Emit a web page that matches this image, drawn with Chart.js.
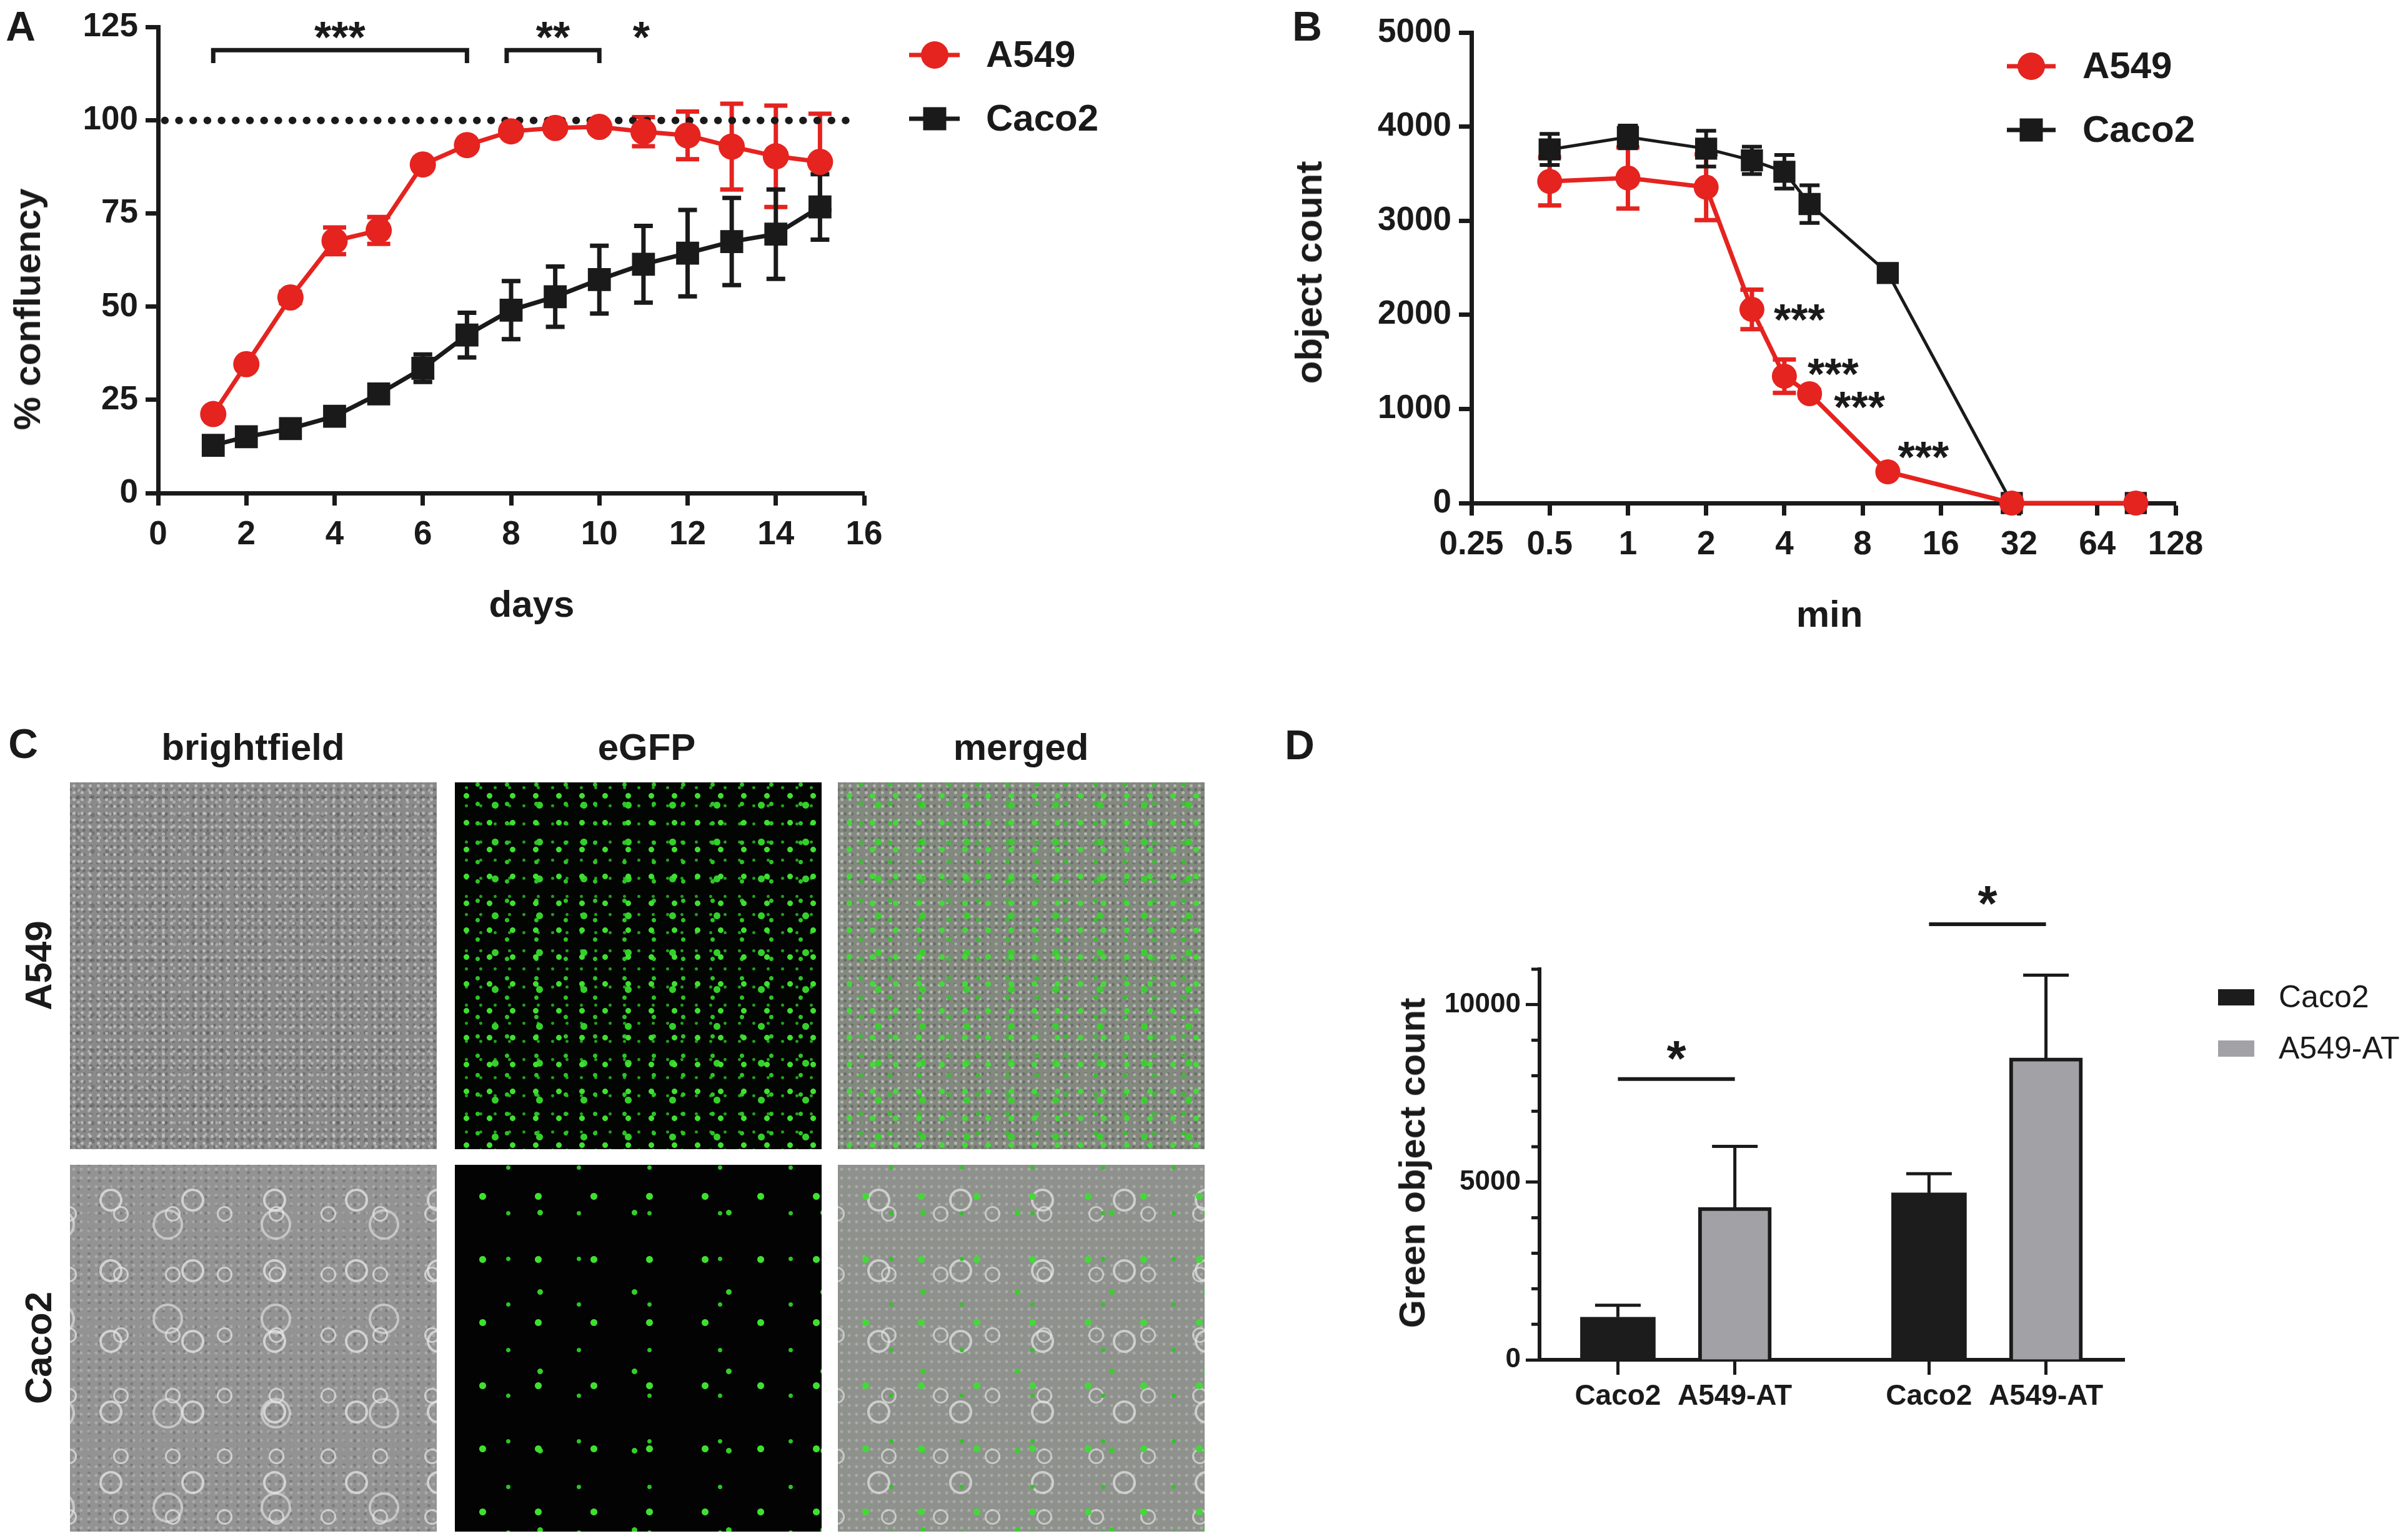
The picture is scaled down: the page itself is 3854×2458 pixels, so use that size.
<!DOCTYPE html>
<html lang="en">
<head>
<meta charset="utf-8">
<title>A549 / Caco2</title>
<script src="https://cdn.jsdelivr.net/npm/chart.js@4.4.1/dist/chart.umd.min.js"></script>
<style>
  html, body { margin: 0; padding: 0; background: #fff; }
  #fig { position: relative; width: 3854px; height: 2458px; overflow: hidden;
         font-family: 'Liberation Sans', Arial, sans-serif; color: #1a1a1a; }
  #fig canvas { position: absolute; }
  .lbl { position: absolute; transform: translate(-50%, -50%); white-space: nowrap;
         font-weight: bold; line-height: 1; }
  .rot { transform: translate(-50%, -50%) rotate(-90deg); }
  .panel { font-size: 66px; }
  .title { font-size: 60px; }
  .img { position: absolute; width: 587px; height: 587px; }

  /* micrograph stand-ins (panel C) */
  .bf1 { background:
      radial-gradient(circle, rgba(225,225,225,.55) 0 2px, transparent 3px) 0 0/13px 11px,
      radial-gradient(circle, rgba(215,215,215,.45) 0 2px, transparent 3px) 5px 3px/17px 19px,
      radial-gradient(circle, rgba(60,60,60,.35) 0 2px, transparent 3px) 6px 5px/11px 13px,
      radial-gradient(circle, rgba(70,70,70,.3) 0 3px, transparent 4px) 2px 9px/23px 29px,
      #8a8a8a; }
  .bf2 { background:
      radial-gradient(circle, transparent 0 14px, rgba(230,230,230,.75) 15px 18px, transparent 19px) 0 0/131px 113px,
      radial-gradient(circle, transparent 0 9px, rgba(230,230,230,.7) 10px 12px, transparent 13px) 40px 30px/83px 97px,
      radial-gradient(circle, transparent 0 20px, rgba(225,225,225,.65) 21px 24px, transparent 25px) 70px 20px/173px 151px,
      radial-gradient(circle, rgba(205,205,205,.4) 0 2px, transparent 3px) 0 0/12px 14px,
      radial-gradient(circle, rgba(70,70,70,.3) 0 2px, transparent 3px) 5px 6px/17px 13px,
      #939393; }
  .gfp1 { background:
      radial-gradient(circle, #3fe030 0 4px, transparent 5px) 0 0/37px 43px,
      radial-gradient(circle, #2cc425 0 3px, transparent 4px) 13px 19px/47px 31px,
      radial-gradient(circle, #34d02a 0 5px, transparent 6px) 29px 7px/71px 59px,
      radial-gradient(circle, #22a01c 0 2px, transparent 3px) 7px 23px/23px 29px,
      #030503; }
  .gfp2 { background:
      radial-gradient(circle, #3fe030 0 5px, transparent 6px) 0 0/89px 101px,
      radial-gradient(circle, #2cc425 0 3px, transparent 4px) 29px 41px/113px 73px,
      radial-gradient(circle, #34d02a 0 4px, transparent 5px) 61px 13px/151px 127px,
      #020302; }
  .mg1 { background:
      radial-gradient(circle, #45d83a 0 4px, transparent 5px) 0 0/37px 43px,
      radial-gradient(circle, #39c02f 0 3px, transparent 4px) 13px 19px/47px 31px,
      radial-gradient(circle, #3fcc33 0 5px, transparent 6px) 29px 7px/71px 59px,
      radial-gradient(circle, rgba(225,225,225,.5) 0 2px, transparent 3px) 0 0/13px 11px,
      radial-gradient(circle, rgba(60,60,60,.35) 0 2px, transparent 3px) 6px 5px/11px 13px,
      #83897f; }
  .mg2 { background:
      radial-gradient(circle, #45d83a 0 5px, transparent 6px) 0 0/89px 101px,
      radial-gradient(circle, #39c02f 0 3px, transparent 4px) 29px 41px/113px 73px,
      radial-gradient(circle, #3fcc33 0 4px, transparent 5px) 61px 13px/151px 127px,
      radial-gradient(circle, transparent 0 14px, rgba(230,230,230,.7) 15px 18px, transparent 19px) 0 0/131px 113px,
      radial-gradient(circle, transparent 0 9px, rgba(230,230,230,.65) 10px 12px, transparent 13px) 40px 30px/83px 97px,
      radial-gradient(circle, rgba(205,205,205,.4) 0 2px, transparent 3px) 0 0/12px 14px,
      #8e918c; }
</style>
</head>
<body>
<div id="fig">
  <canvas id="chartA" width="1950" height="1100" style="left:0;top:0;width:1950px;height:1100px"></canvas>
  <canvas id="chartB" width="1904" height="1100" style="left:1950px;top:0;width:1904px;height:1100px"></canvas>
  <canvas id="chartD" width="1854" height="1300" style="left:2000px;top:1150px;width:1854px;height:1300px"></canvas>

  <div class="lbl panel" style="left:33px;top:42px">A</div>
  <div class="lbl panel" style="left:2092px;top:42px">B</div>
  <div class="lbl panel" style="left:37px;top:1190px">C</div>
  <div class="lbl panel" style="left:2080px;top:1192px">D</div>

  <div class="lbl title rot" style="left:44px;top:495px">% confluency</div>
  <div class="lbl title" style="left:851px;top:967px">days</div>
  <div class="lbl title rot" style="left:2095px;top:436px">object count</div>
  <div class="lbl title" style="left:2928px;top:983px">min</div>
  <div class="lbl title rot" style="left:2260px;top:1861px;font-size:58px">Green object count</div>

  <div class="lbl title" style="left:405px;top:1196px">brightfield</div>
  <div class="lbl title" style="left:1035px;top:1196px">eGFP</div>
  <div class="lbl title" style="left:1634px;top:1196px">merged</div>
  <div class="lbl title rot" style="left:62px;top:1545px">A549</div>
  <div class="lbl title rot" style="left:62px;top:2157px">Caco2</div>

  <div class="img bf1"  style="left:112px;top:1252px"></div>
  <div class="img gfp1" style="left:728px;top:1252px"></div>
  <div class="img mg1"  style="left:1341px;top:1252px"></div>
  <div class="img bf2"  style="left:112px;top:1864px"></div>
  <div class="img gfp2" style="left:728px;top:1864px"></div>
  <div class="img mg2"  style="left:1341px;top:1864px"></div>
</div>

<script>
// ---- A: confluency over time ----
const daysA = [1.25, 2, 3, 4, 5, 6, 7, 8, 9, 10, 11, 12, 13, 14, 15];
const a549Confluency = [21.2, 34.6, 52.5, 67.7, 70.5, 88.2, 93.4, 97.1, 98.0, 98.3, 97.0, 96.0, 93.0, 90.4, 88.9];
const a549ConfluencySd = [1, 1, 1.5, 3.6, 3.6, 1, 1, 1, 1, 1, 3.9, 6.4, 11.5, 13.6, 12.9];
const caco2Confluency = [12.8, 15.1, 17.3, 20.6, 26.6, 33.5, 42.4, 49.1, 52.7, 57.3, 61.4, 64.4, 67.5, 69.5, 76.8];
const caco2ConfluencySd = [1, 1, 1, 1, 1, 3.7, 6, 7.8, 8.1, 9.1, 10.3, 11.6, 11.7, 12, 8.8];
const fullConfluency = [{x: 0.15, y: 100}, {x: 15.65, y: 100}];
const bracketsA = [
  {from: 1.25, to: 7, at: 118.9, drop: 115.4},
  {from: 7.9, to: 10, at: 118.9, drop: 115.4}
];
const starsA = [
  {x: 4.12, y: 125, text: '***'},
  {x: 8.95, y: 125, text: '**'},
  {x: 10.95, y: 125, text: '*'}
];

// ---- B: detachment over time ----
const minutesB = [0.5, 1, 2, 3, 4, 5, 10, 30, 90];
const xTicksB = [0.25, 0.5, 1, 2, 4, 8, 16, 32, 64, 128];
const a549Count = [3418, 3454, 3356, 2058, 1348, 1162, 332, 0, 0];
const a549CountSd = [255, 325, 350, 210, 178, 40, 30, 0, 0];
const caco2Count = [3757, 3890, 3766, 3641, 3520, 3177, 2444, 0, 0];
const caco2CountSd = [165, 120, 190, 145, 178, 200, 40, 0, 0];
const starsB = [
  {x: 4.57, y: 2058, text: '***'},
  {x: 6.16, y: 1481, text: '***'},
  {x: 7.78, y: 1129, text: '***'},
  {x: 13.7, y: 598, text: '***'}
];

// ---- D: green object count ----
const tickLabelsD = ['Caco2', 'A549-AT', 'Caco2', 'A549-AT'];
const tickPosD = [0.67, 1.67, 3.33, 4.33];
const caco2Green = [1200, 4700];
const caco2GreenSd = [334, 539];
const a549atGreen = [4294, 8503];
const a549atGreenSd = [1718, 2331];
const sigLinesD = [
  {from: 0.67, to: 1.67, at: 7906},
  {from: 3.33, to: 4.33, at: 12269}
];
const starsD = [
  {x: 1.17, y: 8830, text: '*'},
  {x: 3.83, y: 13194, text: '*'}
];

const INK = '#1a1a1a';
const RED = '#e5231f';
const GRAY = '#a2a2a6';
const FAMILY = "'Liberation Sans', Arial, sans-serif";

Chart.defaults.font.family = FAMILY;
Chart.defaults.color = INK;

const toPoints = (xs, ys) => xs.map((x, i) => ({x: x, y: ys[i]}));
const plain = v => String(v);

// error bars from dataset.sd, drawn under the markers
const errorBars = {
  id: 'errorBars',
  beforeDatasetsDraw(chart) {
    const ctx = chart.ctx;
    chart.data.datasets.forEach((ds, i) => {
      if (!ds.sd) return;
      const meta = chart.getDatasetMeta(i);
      const yScale = chart.scales[meta.yAxisID];
      const half = ds.capWidth / 2;
      ctx.save();
      ctx.strokeStyle = ds.errColor;
      ctx.lineWidth = ds.errWidth;
      meta.data.forEach((el, j) => {
        const v = ds.data[j].y;
        const e = ds.sd[j];
        if (!e) return;
        const top = yScale.getPixelForValue(v + e);
        const bot = yScale.getPixelForValue(ds.upOnly ? v : v - e);
        ctx.beginPath();
        ctx.moveTo(el.x, top);
        ctx.lineTo(el.x, bot);
        ctx.moveTo(el.x - half, top);
        ctx.lineTo(el.x + half, top);
        if (!ds.upOnly) {
          ctx.moveTo(el.x - half, bot);
          ctx.lineTo(el.x + half, bot);
        }
        ctx.stroke();
      });
      ctx.restore();
    });
  }
};

// brackets, stars and the legend for one panel
function marks(cfg) {
  return {
    id: 'marks',
    afterDraw(chart) {
      const ctx = chart.ctx;
      const xs = chart.scales.x, ys = chart.scales.y;
      ctx.save();
      ctx.strokeStyle = INK;
      ctx.fillStyle = INK;
      ctx.lineWidth = cfg.lineWidth || 7;
      (cfg.brackets || []).forEach(b => {
        const x1 = xs.getPixelForValue(b.from), x2 = xs.getPixelForValue(b.to);
        const yy = ys.getPixelForValue(b.at);
        ctx.beginPath();
        if (b.drop != null) {
          const yd = ys.getPixelForValue(b.drop);
          ctx.moveTo(x1, yd); ctx.lineTo(x1, yy); ctx.lineTo(x2, yy); ctx.lineTo(x2, yd);
        } else {
          ctx.moveTo(x1, yy); ctx.lineTo(x2, yy);
        }
        ctx.stroke();
      });
      ctx.font = 'bold ' + cfg.starSize + 'px ' + FAMILY;
      ctx.textAlign = 'center';
      ctx.textBaseline = 'alphabetic';
      (cfg.stars || []).forEach(s => {
        ctx.fillText(s.text, xs.getPixelForValue(s.x), ys.getPixelForValue(s.y) + cfg.starSize * 0.58);
      });

      // minor ticks (panel D)
      if (cfg.minorTick) {
        ctx.lineWidth = 5;
        ys.ticks.forEach(t => {
          if (t.value % 5000 === 0) return;
          const py = ys.getPixelForValue(t.value);
          ctx.beginPath();
          ctx.moveTo(chart.chartArea.left - cfg.minorTick, py);
          ctx.lineTo(chart.chartArea.left, py);
          ctx.stroke();
        });
      }

      const lg = cfg.legend;
      if (lg) {
        ctx.textAlign = 'left';
        ctx.textBaseline = 'middle';
        ctx.font = (lg.weight || 'bold') + ' ' + lg.size + 'px ' + FAMILY;
        lg.items.forEach(it => {
          ctx.fillStyle = it.color;
          ctx.strokeStyle = it.color;
          if (it.shape === 'box') {
            ctx.fillRect(lg.boxX, it.y - lg.boxH / 2, lg.boxW, lg.boxH);
          } else {
            ctx.lineWidth = 7;
            ctx.beginPath();
            ctx.moveTo(lg.lineFrom, it.y);
            ctx.lineTo(lg.lineTo, it.y);
            ctx.stroke();
            ctx.beginPath();
            if (it.shape === 'circle') {
              ctx.arc(lg.markX, it.y, 22, 0, Math.PI * 2);
            } else {
              ctx.rect(lg.markX - 18.5, it.y - 18.5, 37, 37);
            }
            ctx.fill();
          }
          ctx.fillStyle = INK;
          ctx.fillText(it.label, lg.textX, it.y + 2);
        });
      }
      ctx.restore();
    }
  };
}

function axis(extra) {
  const base = {
    ticks: {font: {size: 53, weight: 'bold'}, color: INK, maxRotation: 0, autoSkip: false, callback: plain},
    grid: {drawOnChartArea: false, tickLength: 20, tickWidth: 7, tickColor: INK},
    border: {color: INK, width: 7}
  };
  return Object.assign(base, extra, {
    ticks: Object.assign(base.ticks, extra.ticks || {}),
    grid: Object.assign(base.grid, extra.grid || {}),
    border: Object.assign(base.border, extra.border || {})
  });
}

// ---------- Panel A ----------
new Chart(document.getElementById('chartA'), {
  type: 'line',
  data: {
    datasets: [
      {
        label: 'A549', data: toPoints(daysA, a549Confluency), sd: a549ConfluencySd,
        borderColor: RED, backgroundColor: RED, pointBackgroundColor: RED, borderWidth: 7,
        pointRadius: 21, pointHoverRadius: 21, pointBorderWidth: 0, pointStyle: 'circle',
        errColor: RED, errWidth: 7, capWidth: 37, clip: false, order: 0
      },
      {
        label: 'Caco2', data: toPoints(daysA, caco2Confluency), sd: caco2ConfluencySd,
        borderColor: INK, backgroundColor: INK, pointBackgroundColor: INK, borderWidth: 7,
        pointRadius: 26, pointHoverRadius: 26, pointBorderWidth: 0, pointStyle: 'rect',
        errColor: INK, errWidth: 7, capWidth: 30, clip: false, order: 1
      },
      {
        label: '100%', data: fullConfluency, borderColor: INK, borderWidth: 12,
        borderDash: [0.5, 22.2], borderCapStyle: 'round', pointRadius: 0, clip: false, order: 2
      }
    ]
  },
  options: {
    responsive: false, devicePixelRatio: 1, animation: false,
    layout: {padding: {left: 6, top: 34, right: 567, bottom: 0}},
    plugins: {legend: {display: false}, tooltip: {enabled: false}},
    scales: {
      x: axis({type: 'linear', min: 0, max: 16, ticks: {stepSize: 2, padding: 16},
        afterFit: s => { s.height = 311; }}),
      y: axis({type: 'linear', min: 0, max: 125, ticks: {stepSize: 25, padding: 12},
        afterFit: s => { s.width = 247; }})
    }
  },
  plugins: [errorBars, marks({
    brackets: bracketsA, stars: starsA, starSize: 70,
    legend: {size: 60, lineFrom: 1455, lineTo: 1536, markX: 1496, textX: 1578,
      items: [{label: 'A549', color: RED, shape: 'circle', y: 88},
              {label: 'Caco2', color: INK, shape: 'rect', y: 190}]}
  })]
});

// ---------- Panel B ----------
new Chart(document.getElementById('chartB'), {
  type: 'line',
  data: {
    datasets: [
      {
        label: 'A549', data: toPoints(minutesB, a549Count), sd: a549CountSd,
        borderColor: RED, backgroundColor: RED, pointBackgroundColor: RED, borderWidth: 7,
        pointRadius: 20, pointHoverRadius: 20, pointBorderWidth: 0, pointStyle: 'circle',
        errColor: RED, errWidth: 7, capWidth: 37, clip: false, order: 0
      },
      {
        label: 'Caco2', data: toPoints(minutesB, caco2Count), sd: caco2CountSd,
        borderColor: INK, backgroundColor: INK, pointBackgroundColor: INK, borderWidth: 5,
        pointRadius: 25, pointHoverRadius: 25, pointBorderWidth: 0, pointStyle: 'rect',
        errColor: INK, errWidth: 6, capWidth: 32, clip: false, order: 1
      }
    ]
  },
  options: {
    responsive: false, devicePixelRatio: 1, animation: false,
    layout: {padding: {left: 6, top: 52, right: 372, bottom: 0}},
    plugins: {legend: {display: false}, tooltip: {enabled: false}},
    scales: {
      x: axis({type: 'logarithmic', min: 0.25, max: 128, ticks: {padding: 16},
        afterBuildTicks: s => { s.ticks = xTicksB.map(v => ({value: v})); },
        afterFit: s => { s.height = 295; }}),
      y: axis({type: 'linear', min: 0, max: 5000, ticks: {stepSize: 1000, padding: 12},
        afterFit: s => { s.width = 399; }})
    }
  },
  plugins: [errorBars, marks({
    stars: starsB, starSize: 70,
    legend: {size: 60, lineFrom: 1262, lineTo: 1340, markX: 1301, textX: 1383,
      items: [{label: 'A549', color: RED, shape: 'circle', y: 106},
              {label: 'Caco2', color: INK, shape: 'rect', y: 208}]}
  })]
});

// ---------- Panel D ----------
new Chart(document.getElementById('chartD'), {
  type: 'bar',
  data: {
    datasets: [
      {
        label: 'Caco2', data: toPoints([tickPosD[0], tickPosD[2]], caco2Green), sd: caco2GreenSd,
        upOnly: true, backgroundColor: '#1c1c1c', borderColor: INK, borderWidth: 0,
        barThickness: 120, grouped: false, errColor: INK, errWidth: 5, capWidth: 73
      },
      {
        label: 'A549-AT', data: toPoints([tickPosD[1], tickPosD[3]], a549atGreen), sd: a549atGreenSd,
        upOnly: true, backgroundColor: GRAY, borderColor: INK, borderWidth: 6,
        barThickness: 117, grouped: false, errColor: INK, errWidth: 5, capWidth: 73
      }
    ]
  },
  options: {
    responsive: false, devicePixelRatio: 1, animation: false,
    layout: {padding: {left: 6, top: 401, right: 454, bottom: 0}},
    plugins: {legend: {display: false}, tooltip: {enabled: false}},
    scales: {
      x: axis({type: 'linear', min: 0, max: 5, offset: false,
        ticks: {font: {size: 46, weight: 'bold'}, padding: 8, callback: (v, i) => tickLabelsD[i]},
        grid: {offset: false, tickLength: 24, tickWidth: 5},
        border: {width: 6},
        afterBuildTicks: s => { s.ticks = tickPosD.map(v => ({value: v})); },
        afterFit: s => { s.height = 274; }}),
      y: axis({type: 'linear', min: 0, max: 11000,
        ticks: {stepSize: 1000, padding: 8, font: {size: 44, weight: 'bold'},
          callback: v => (v % 5000 === 0 ? String(v) : '')},
        grid: {tickLength: 22, tickWidth: 5,
          tickColor: c => (c.tick && c.tick.value % 5000 === 0 ? INK : 'rgba(0,0,0,0)')},
        border: {width: 6},
        afterFit: s => { s.width = 458; }})
    }
  },
  plugins: [errorBars, marks({
    brackets: sigLinesD, stars: starsD, starSize: 80, lineWidth: 6, minorTick: 13,
    legend: {size: 50, weight: 'normal', boxX: 1550, boxW: 58, boxH: 26, textX: 1647,
      items: [{label: 'Caco2', color: '#1c1c1c', shape: 'box', y: 446},
              {label: 'A549-AT', color: GRAY, shape: 'box', y: 528}]}
  })]
});
</script>
</body>
</html>
